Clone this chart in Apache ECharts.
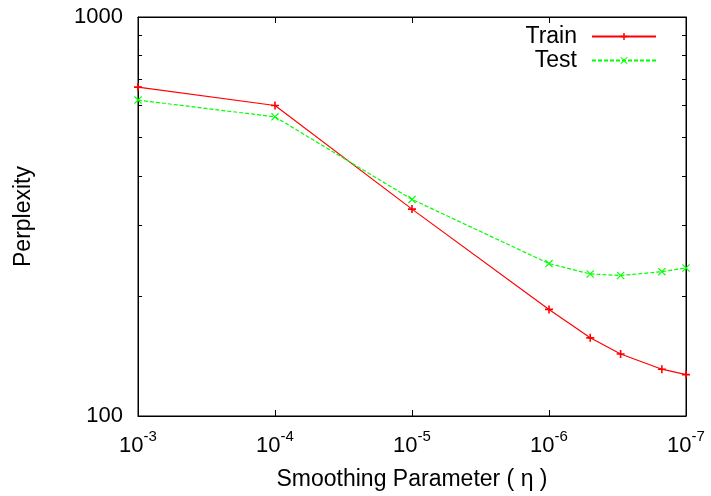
<!DOCTYPE html>
<html><head><meta charset="utf-8">
<script src="https://cdn.jsdelivr.net/npm/echarts@6/dist/echarts.min.js"></script>
<style>html,body{margin:0;padding:0;background:#fff}#c{width:711px;height:496px}</style>
</head><body><div id="c"></div>
<script>
// ---- data ----
const etaValues = [1e-3, 1e-4, 1e-5, 1e-6, 5e-7, 3e-7, 1.5e-7, 1e-7];
const trainPerplexity = [667, 600, 330, 185, 157, 143, 131, 127];
const testPerplexity = [619, 562, 349, 241, 227, 225, 230, 235];
const yMinorTicks = [200, 300, 400, 500, 600, 700, 800, 900];
const seriesNames = ['Train', 'Test'];
const xTitle = 'Smoothing Parameter ( η )';
const yTitle = 'Perplexity';

const FONT = 'Liberation Sans';
const plusPath = 'path://M4,0H6V4H10V6H6V10H4V6H0V4H4Z';
const crossPath = 'path://M0,1L1,0L5,4L9,0L10,1L6,5L10,9L9,10L5,6L1,10L0,9L4,5Z';

const pairs = (xs, ys) => xs.map((x, i) => [x, ys[i]]);
const minorLog = yMinorTicks.map(v => Math.log10(v));

const chart = echarts.init(document.getElementById('c'), null, {renderer: 'canvas'});
const tickStyle = {show: true, inside: true, length: 6, lineStyle: {color: '#000', width: 1}};
chart.setOption({
  animation: false,
  backgroundColor: '#fff',
  grid: {left: 138, right: 25, top: 17, bottom: 80, show: true, borderColor: '#000', borderWidth: 1},
  legend: {
    orient: 'vertical', right: 49, top: 20, align: 'right',
    itemWidth: 64, itemHeight: 9, itemGap: 1,
    textStyle: {fontFamily: FONT, fontSize: 23, color: '#000', padding: [0, 10, 0, 0]},
    data: seriesNames
  },
  xAxis: [{
    type: 'log', inverse: true, min: 1e-7, max: 1e-3, position: 'bottom',
    name: xTitle, nameLocation: 'middle', nameGap: 52,
    nameTextStyle: {fontFamily: FONT, fontSize: 23, color: '#000'},
    axisLine: {show: true, lineStyle: {color: '#000', width: 1}},
    axisTick: tickStyle,
    splitLine: {show: false},
    axisLabel: {
      margin: 13, color: '#000',
      formatter: v => '{b|10}{s|' + Math.round(Math.log10(v)) + '}',
      rich: {
        b: {fontFamily: FONT, fontSize: 22, color: '#000'},
        s: {fontFamily: FONT, fontSize: 15, color: '#000', padding: [0, 0, 18, 0]}
      }
    }
  }, {
    type: 'log', inverse: true, min: 1e-7, max: 1e-3, position: 'top',
    axisLine: {show: true, lineStyle: {color: '#000', width: 1}},
    axisTick: tickStyle, axisLabel: {show: false}, splitLine: {show: false}
  }],
  yAxis: [{
    type: 'log', min: 100, max: 1000, position: 'left',
    name: yTitle, nameLocation: 'middle', nameGap: 103,
    nameTextStyle: {fontFamily: FONT, fontSize: 23, color: '#000'},
    axisLine: {show: true, lineStyle: {color: '#000', width: 1}},
    axisTick: tickStyle, splitLine: {show: false},
    axisLabel: {margin: 15, fontFamily: FONT, fontSize: 22, color: '#000', formatter: v => String(Math.round(v))}
  }, {
    type: 'value', min: 2, max: 3, position: 'left',
    axisLine: {show: false}, axisLabel: {show: false}, splitLine: {show: false},
    axisTick: {show: true, inside: true, length: 4, customValues: minorLog, lineStyle: {color: '#000', width: 1}}
  }, {
    type: 'value', min: 2, max: 3, position: 'right',
    axisLine: {show: true, lineStyle: {color: '#000', width: 1}}, axisLabel: {show: false}, splitLine: {show: false},
    axisTick: {show: true, inside: true, length: 4, customValues: minorLog, lineStyle: {color: '#000', width: 1}}
  }],
  series: [{
    name: seriesNames[0], type: 'line', xAxisIndex: 0, yAxisIndex: 0,
    data: pairs(etaValues, trainPerplexity),
    symbol: plusPath, symbolSize: 8, clip: false,
    itemStyle: {color: '#ff0000'},
    lineStyle: {color: '#ff0000', width: 1.2}
  }, {
    name: seriesNames[1], type: 'line', xAxisIndex: 0, yAxisIndex: 0,
    data: pairs(etaValues, testPerplexity),
    symbol: crossPath, symbolSize: 8, clip: false,
    itemStyle: {color: '#00ff00'},
    lineStyle: {color: '#00ff00', width: 1.2, type: [4, 2]}
  }]
});
</script></body></html>
